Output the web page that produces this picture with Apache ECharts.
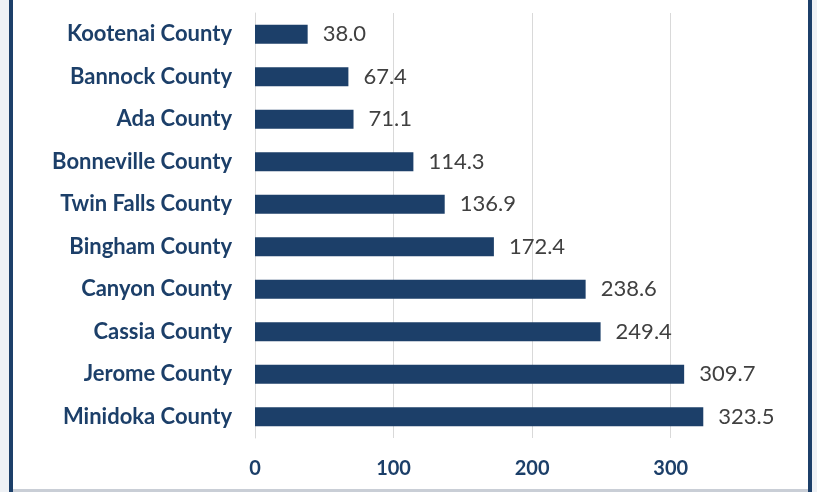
<!DOCTYPE html>
<html>
<head>
<meta charset="utf-8">
<script src="https://cdn.jsdelivr.net/npm/echarts@6/dist/echarts.min.js"></script>
<style>
  html, body { margin: 0; padding: 0; background: #ffffff; }
  #chart { width: 817px; height: 492px; }
</style>
</head>
<body>
<div id="chart"></div>
<script>
  // counties, top to bottom
  const counties = [
    "Kootenai County",
    "Bannock County",
    "Ada County",
    "Bonneville County",
    "Twin Falls County",
    "Bingham County",
    "Canyon County",
    "Cassia County",
    "Jerome County",
    "Minidoka County",
  ];
  const rates = [38.0, 67.4, 71.1, 114.3, 136.9, 172.4, 238.6, 249.4, 309.7, 323.5];
  const xTicks = [0, 100, 200, 300];

  const navy = "#1c3f69";
  const gridGray = "#d9d9d9";

  var chart = echarts.init(document.getElementById("chart"));
  var option = {
    animation: false,
    backgroundColor: "#ffffff",
    grid: {
      left: 255,
      right: 77,
      top: 13,
      bottom: 54,
    },
    xAxis: {
      type: "value",
      min: 0,
      max: 350,
      interval: 100,
      axisLine: { show: false },
      axisTick: { show: false },
      axisLabel: {
        margin: 21,
        color: navy,
        fontFamily: "Lato",
        fontWeight: "bold",
        fontSize: 20,
        formatter: (v) => (xTicks.includes(v) ? String(v) : ""),
      },
      splitLine: {
        lineStyle: {
          color: [gridGray, gridGray, gridGray, gridGray, "rgba(0,0,0,0)"],
          width: 1,
        },
      },
    },
    yAxis: {
      type: "category",
      inverse: true,
      data: counties,
      axisLine: { show: true, lineStyle: { color: gridGray, width: 1 } },
      axisTick: { show: false },
      axisLabel: {
        margin: 23,
        color: navy,
        fontFamily: "Lato",
        fontWeight: "bold",
        fontSize: 22,
      },
    },
    series: [
      {
        type: "bar",
        data: rates,
        barWidth: 19,
        itemStyle: { color: navy },
        label: {
          show: true,
          position: "right",
          distance: 15,
          color: "#404040",
          fontFamily: "Lato",
          fontSize: 22,
          formatter: (p) => p.value.toFixed(1),
        },
      },
    ],
    graphic: [
      { type: "rect", shape: { x: 0, y: 0, width: 9, height: 492 }, style: { fill: "#eef1f5" } },
      { type: "rect", shape: { x: 812, y: 0, width: 5, height: 492 }, style: { fill: "#eef1f5" } },
      { type: "rect", shape: { x: 9, y: 0, width: 4, height: 492 }, style: { fill: navy } },
      { type: "rect", shape: { x: 808, y: 0, width: 4, height: 492 }, style: { fill: navy } },
      { type: "rect", shape: { x: 13, y: 489, width: 795, height: 3 }, style: { fill: "#c9ced6" } },
    ],
  };
  chart.setOption(option);
</script>
</body>
</html>
